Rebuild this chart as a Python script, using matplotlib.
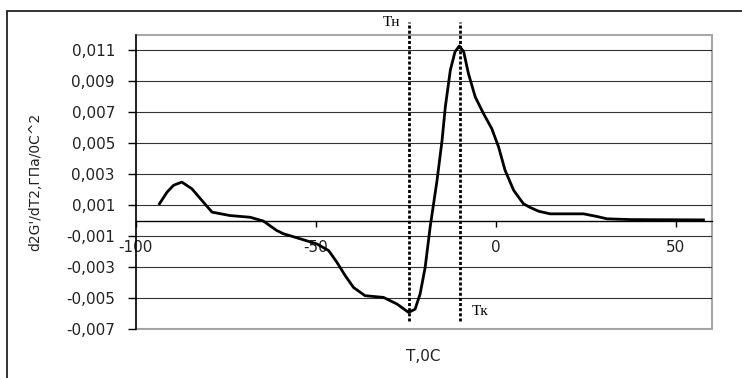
import matplotlib.pyplot as plt
from matplotlib.patches import Rectangle

# curve (temperature, d2G'/dT2)
temp = [-93.4, -91.3, -89.5, -87.2, -84.4, -81.6, -78.8, -73.8, -68.2, -64.5,
        -60.8, -58.9, -54.3, -49.7, -46.4, -44.1, -41.8, -39.5, -36.3, -31.2,
        -27.4, -24.2, -22.4, -21.0, -19.6, -18.2, -16.3, -14.9, -14.0,
        -12.6, -11.3, -10.1, -8.9, -7.6, -5.7, -3.4, -1.1, 0.8, 2.6,
        5.0, 7.7, 9.5, 11.9, 15.1, 24.4, 28.1, 30.9, 37.4, 57.7]
d2g = [0.00108, 0.00183, 0.00227, 0.00248, 0.00205, 0.00129, 0.00054, 0.00032, 0.00021, -0.00004,
       -0.00065, -0.00086, -0.00118, -0.00151, -0.00194, -0.00270, -0.00356, -0.00432, -0.00485, -0.00496,
       -0.00539, -0.00593, -0.00572, -0.00474, -0.00302, -0.00040, 0.00259, 0.00518, 0.00733,
       0.00971, 0.01089, 0.01126, 0.01089, 0.00950, 0.00798, 0.00690, 0.00593, 0.00474, 0.00324,
       0.00194, 0.00108, 0.00085, 0.00060, 0.00043, 0.00043, 0.00026, 0.00011, 0.00006, 0.00004]

# start / end temperatures marked by dotted lines
t_start = -24
t_end = -10

x_ticks = [-100, -50, 0, 50]
y_ticks = [-0.007, -0.005, -0.003, -0.001, 0.001, 0.003, 0.005, 0.007, 0.009, 0.011]

plt.rcParams["font.family"] = ["DejaVu Sans"]

fig = plt.figure(figsize=(7.42, 3.78), dpi=100)
ax = fig.add_axes([0.1829, 0.1296, 0.7763, 0.7791])

# chart area border (cut off at right and bottom like the reference)
fig.patches.append(Rectangle((0.0094, -0.2), 1.2, 1.172, transform=fig.transFigure,
                             fill=False, edgecolor="#222222", linewidth=1.3))

ax.set_xlim(-100, 60)
ax.set_ylim(-0.007, 0.012)

# gray plot area frame
for side in ["top", "right"]:
    ax.spines[side].set_visible(False)
ax.add_patch(Rectangle((0, 0), 1, 1, transform=ax.transAxes, fill=False,
                       edgecolor="#a8a8a8", linewidth=1.5, clip_on=False, zorder=0.5))
ax.spines["left"].set_color("black")
ax.spines["left"].set_linewidth(1.1)
ax.spines["left"].set_zorder(3)
ax.spines["bottom"].set_position(("data", 0))
ax.spines["bottom"].set_color("black")
ax.spines["bottom"].set_linewidth(1.0)

ax.set_yticks(y_ticks)
ax.set_yticklabels([f"{v:.3f}".replace(".", ",") for v in y_ticks])
ax.set_xticks(x_ticks)
ax.set_xticklabels([str(v) for v in x_ticks])
ax.tick_params(axis="y", direction="out", length=6, width=1, pad=9, labelsize=11,
               labelcolor="#222222")
ax.tick_params(axis="x", direction="out", length=4, width=1, pad=10, labelsize=11,
               labelcolor="#222222")

ax.yaxis.grid(True, color="#333333", linewidth=0.8)
ax.set_axisbelow(True)

ax.plot(temp, d2g, color="black", linewidth=2.0, zorder=4)

for t in [t_start, t_end]:
    ax.axvline(t, ymin=0.028, ymax=1.0425, color="black", linewidth=2.0,
               linestyle=(0, (1.1, 0.75)), clip_on=False, zorder=5)

ax.annotate("Tн", xy=(t_start, 1.04), xycoords=("data", "axes fraction"),
            xytext=(-6.5, 0), textcoords="offset points", ha="right", va="center",
            family=["Liberation Serif", "DejaVu Serif"], fontsize=11)
ax.annotate("Tк", xy=(t_end, 0.059), xycoords=("data", "axes fraction"),
            xytext=(8.4, 0), textcoords="offset points", ha="left", va="center",
            family=["Liberation Serif", "DejaVu Serif"], fontsize=11)

ax.set_xlabel("Т,0С", fontsize=11, va="center", color="#222222")
ax.xaxis.set_label_coords(0.5, -0.095)
ax.set_ylabel("d2G'/dT2,ГПа/0С^2", fontsize=10, va="center", color="#222222")
ax.yaxis.set_label_coords(-0.175, 0.5)

fig.savefig("out.png", dpi=100)
